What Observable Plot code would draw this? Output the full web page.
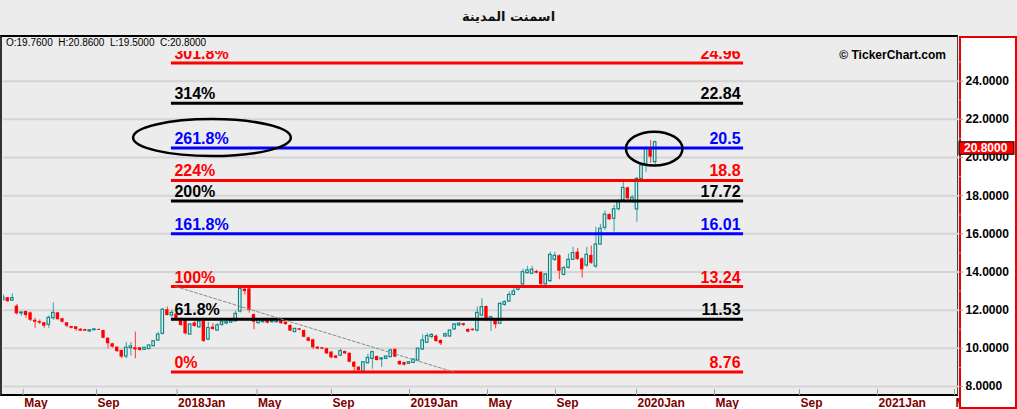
<!DOCTYPE html>
<html><head><meta charset="utf-8">
<script src="https://cdn.jsdelivr.net/npm/d3@7"></script>
<script src="https://cdn.jsdelivr.net/npm/@observablehq/plot@0.6"></script>
<style>
html,body{margin:0;padding:0;}
body{width:1017px;height:409px;overflow:hidden;background:#ececec;position:relative;font-family:"Liberation Sans",Arial,sans-serif;}
#title{position:absolute;left:0;top:9px;width:1017px;height:18px;line-height:18px;text-align:center;font:bold 13px "DejaVu Sans",sans-serif;color:#111;}
#frame{position:absolute;left:0;top:35px;width:958px;height:361px;box-sizing:border-box;border-top:2px solid #000;border-left:2px solid #333;border-right:1px solid #444;border-bottom:2px solid #000;}
#bottomband{position:absolute;left:0;top:396px;width:958px;height:13px;background:#fff;}
#chart{position:absolute;left:0;top:35px;}
#ohlc{position:absolute;left:6px;top:37px;font:10px "Liberation Sans",Arial,sans-serif;white-space:pre;color:#000;line-height:11px;}
#copy{position:absolute;right:71px;top:49px;font:bold 12px "Liberation Sans",Arial,sans-serif;line-height:12px;color:#000;}
</style></head>
<body>
<div id="title">اسمنت المدينة</div>
<div id="frame"></div>
<div id="bottomband"></div>
<div id="chart"></div>
<div id="ohlc"></div>
<div id="copy">© TickerChart.com</div>
<script>
// ---- weekly candles (bar index order) ----
const opens = [12.52,12.65,12.50,12.21,11.83,11.93,11.86,11.47,11.40,11.34,11.23,11.58,11.86,11.55,11.34,11.14,11.13,11.00,10.98,10.88,10.95,10.99,10.93,10.53,10.24,10.06,9.89,9.57,10.01,10.03,
10.03,9.92,9.96,10.11,10.41,10.76,12.02,11.72,11.80,11.55,11.45,10.72,11.33,11.10,11.46,10.46,11.11,10.93,11.23,11.30,11.35,11.41,11.93,13.10,13.12,
11.77,11.32,11.37,11.46,11.37,11.37,11.42,11.37,11.20,10.85,11.02,10.93,10.55,10.45,10.06,10.03,9.98,9.80,9.60,9.62,9.83,9.74,9.27,9.01,8.75,9.22,9.45,9.57,9.42,9.45,
9.54,9.94,9.31,9.25,9.19,9.24,9.36,9.94,10.29,10.60,10.64,10.41,10.62,10.62,10.99,11.20,11.29,10.99,11.00,10.93,11.72,12.19,11.51,11.46,11.29,12.28,12.45,12.80,13.07,
13.35,13.94,13.91,14.03,13.99,13.35,13.52,14.64,14.85,13.85,14.22,14.64,15.04,14.69,14.34,14.87,14.29,15.44,16.32,17.01,16.79,17.29,17.75,18.41,17.71,17.28,18.88,19.58,20.50,19.76];
const highs = [12.82,12.67,12.86,12.30,11.90,11.96,11.90,11.58,11.48,11.36,11.70,12.39,11.88,11.57,11.36,11.16,11.15,11.02,11.00,10.97,11.01,11.01,10.95,10.55,10.26,10.08,9.91,10.30,10.30,10.85,
10.05,10.05,10.17,10.40,10.84,12.10,12.16,12.00,11.85,11.60,11.50,11.30,11.40,11.45,11.50,11.37,11.30,11.30,11.40,11.42,11.55,11.95,13.20,13.20,13.15,
11.80,11.55,11.48,11.50,11.45,11.42,11.45,11.40,11.23,11.05,11.05,10.96,10.58,10.48,10.08,10.05,10.00,9.83,9.63,9.96,9.86,9.77,9.30,9.05,9.30,9.69,9.85,9.60,9.50,9.60,
9.95,9.98,9.35,9.28,9.30,9.45,10.00,10.70,10.78,10.78,10.70,10.45,10.80,10.98,11.30,11.35,11.32,11.02,11.02,12.16,12.60,12.22,11.68,11.50,12.40,12.50,12.95,13.30,13.25,
14.15,14.30,14.30,14.08,14.02,13.92,15.04,15.04,14.90,14.30,14.95,15.30,15.23,14.75,15.30,15.36,16.35,16.50,17.20,17.05,17.50,17.80,18.80,18.45,18.00,18.95,19.65,20.55,20.89,20.86];
const lows = [12.49,12.39,12.48,11.75,11.68,11.58,11.40,11.05,11.25,11.05,11.05,11.47,11.48,11.33,11.08,11.02,10.88,10.88,10.88,10.86,10.93,10.93,10.50,9.98,10.02,9.78,9.47,9.45,9.60,9.45,
9.85,9.90,9.94,10.08,10.38,10.70,11.70,11.62,11.50,11.15,10.70,10.68,11.10,11.05,10.30,10.40,10.95,10.88,11.15,11.25,11.30,11.38,11.85,12.80,11.84,
10.97,11.28,11.33,11.28,11.33,11.33,11.26,11.20,10.88,10.82,10.92,10.55,10.34,9.92,9.93,9.93,9.68,9.45,9.45,9.58,9.68,9.24,8.80,8.78,8.72,9.18,8.90,9.33,9.00,9.40,
9.50,9.50,9.10,9.08,9.15,9.20,9.33,9.90,10.25,10.50,10.30,10.15,10.58,10.58,10.95,11.15,11.15,10.80,10.90,10.85,11.65,11.40,10.90,11.02,11.25,12.20,12.40,12.75,13.00,
13.30,13.90,13.88,13.90,13.24,13.30,13.45,14.55,13.60,13.80,14.15,14.60,14.60,13.68,14.25,14.40,14.20,15.40,16.18,16.70,16.10,17.20,17.70,17.70,17.60,16.61,18.70,19.23,19.70,19.50];
const closes = [12.66,12.45,12.63,11.81,11.88,11.72,11.47,11.37,11.32,11.16,11.60,11.86,11.50,11.37,11.16,11.05,10.99,10.90,10.90,10.95,10.99,10.95,10.53,10.24,10.06,9.83,9.54,10.03,10.10,9.92,
9.89,10.03,10.15,10.37,10.72,12.02,11.72,11.86,11.55,11.20,10.76,11.25,11.15,11.40,10.36,11.06,10.99,11.20,11.37,11.37,11.45,11.81,13.12,12.98,11.98,
11.37,11.50,11.45,11.32,11.42,11.40,11.29,11.25,10.90,11.02,10.95,10.58,10.37,10.03,9.96,9.96,9.71,9.50,9.48,9.85,9.71,9.27,9.01,8.84,9.27,9.50,9.80,9.36,9.47,9.57,
9.89,9.54,9.14,9.12,9.27,9.41,9.98,10.41,10.64,10.70,10.36,10.24,10.74,10.93,11.25,11.29,11.20,10.85,10.93,11.86,12.16,11.55,11.63,11.23,12.33,12.42,12.80,12.98,13.20,
13.99,14.08,14.12,13.94,13.35,13.87,14.90,14.85,14.04,14.20,14.64,14.99,14.66,14.12,14.90,14.46,15.44,16.27,17.01,16.74,17.29,17.71,18.41,17.84,17.89,18.88,19.58,20.50,20.02,20.80];

// ---- x-axis month ticks (bar-index positions) ----
const tickIdx = [4.39,20.47,38.14,55.67,72.01,89.12,106.23,121.15,138.91,156.02,174.67,191.78,208.66];
const tickLabels = ["May","Sep","2018Jan","May","Sep","2019Jan","May","Sep","2020Jan","May","Sep","2021Jan","May"];

// ---- y-axis ticks ----
const yTicks = [8,10,12,14,16,18,20,22,24];
const yMinor = [9,11,13,15,17,19,21,23,25];

// ---- Fibonacci levels ----
const fibPct = ["301.8%","314%","261.8%","224%","200%","161.8%","100%","61.8%","0%"];
const fibVal = [24.96,22.84,20.5,18.8,17.72,16.01,13.24,11.53,8.76];
const fibSet = ["a","b","c","a","b","c","a","b","a"];
const fibFrom = 36.9, fibTo = 162.4;

// ---- trend line & annotation ellipses ----
const trendIdx = [37.8, 98.8];
const trendVal = [13.24, 8.76];
const noteCx = [45.9, 142.9];
const noteCy = [21.02, 20.44];
const noteRx = [17.3, 6.2];
const noteRy = [0.97, 0.89];

const setColor = {a: "#ff0000", b: "#000000", c: "#0000ff"};

const candles = opens.map((o, i) => ({i, o, h: highs[i], l: lows[i], c: closes[i]}));
const up = candles.filter(d => d.c >= d.o);
const down = candles.filter(d => d.c < d.o);
const fibs = fibVal.map((v, k) => ({v, pct: fibPct[k], val: String(v), set: fibSet[k]}));
const trend = trendIdx.map((x, k) => ({x, v: trendVal[k]}));
const labelOf = new Map(tickIdx.map((t, k) => [t, tickLabels[k]]));
const last = candles[candles.length - 1];

const fibMarks = [];
for (const s of ["a","b","c"]) {
  const sub = fibs.filter(f => f.set === s);
  fibMarks.push(Plot.ruleY(sub, {y: "v", x1: fibFrom, x2: fibTo, stroke: setColor[s], strokeWidth: 3, clip: true}));
}
const fibText = [];
for (const s of ["a","b","c"]) {
  const sub = fibs.filter(f => f.set === s);
  fibText.push(Plot.text(sub, {x: fibFrom, y: "v", text: "pct", textAnchor: "start", lineAnchor: "bottom", dx: 3, dy: -4, fill: setColor[s], fontSize: 16, fontWeight: "bold", clip: true}));
  fibText.push(Plot.text(sub, {x: fibTo, y: "v", text: "val", textAnchor: "end", lineAnchor: "bottom", dx: -3, dy: -4, fill: setColor[s], fontSize: 16, fontWeight: "bold", clip: true}));
}

const plot = Plot.plot({
  width: 1017, height: 374,
  marginTop: 16, marginBottom: 14, marginLeft: 3, marginRight: 59,
  style: {background: "transparent", fontFamily: "'Liberation Sans', Arial, sans-serif", overflow: "visible"},
  x: {type: "linear", domain: [0.066, 209.54]},
  y: {type: "linear", domain: [7.528, 25.557]},
  marks: [
    Plot.ruleY(yTicks, {y: d => d, stroke: "#d4d4d4", strokeWidth: 2, clip: true}),
    Plot.ruleX(up, {x: "i", y1: "l", y2: "h", stroke: "#5aa8a8", strokeWidth: 1.2, clip: true}),
    Plot.ruleX(down, {x: "i", y1: "l", y2: "h", stroke: "#ff5050", strokeWidth: 1.2, clip: true}),
    Plot.rect(up, {x1: d => d.i - 0.5, x2: d => d.i + 0.5, y1: "o", y2: "c", insetLeft: 1, insetRight: 1, fill: "#ececec", stroke: "#008585", strokeWidth: 1.1, clip: true}),
    Plot.rect(down, {x1: d => d.i - 0.5, x2: d => d.i + 0.5, y1: "o", y2: "c", insetLeft: 0.6, insetRight: 0.6, fill: "#ff0000", clip: true}),
    ...fibMarks,
    Plot.line(trend, {x: "x", y: "v", stroke: "#8a8a8a", strokeWidth: 1, strokeDasharray: "3,2", clip: true}),
    ...fibText,
    Plot.axisX(tickIdx, {anchor: "bottom", tickSize: -6, tickFormat: () => "", stroke: "#a0a0a0", label: null}),
    Plot.axisX(tickIdx, {anchor: "bottom", tickSize: 0, tickPadding: 3, tickFormat: d => labelOf.get(d), textAnchor: "start", dx: 1, fill: "#800000", fontSize: 12, fontWeight: "bold", label: null}),
    Plot.axisY(yMinor, {anchor: "right", tickSize: 2, tickFormat: () => "", stroke: "#999", label: null}),
    Plot.axisY(yTicks, {anchor: "right", tickSize: 4, tickPadding: 3, tickFormat: d => d.toFixed(4), stroke: "#999", fill: "#000", fontSize: 12, fontWeight: "bold", label: null})
  ]
});
document.getElementById("chart").appendChild(plot);

document.getElementById("ohlc").textContent =
  `O:${last.o.toFixed(4)}  H:${last.h.toFixed(4)}  L:${last.l.toFixed(4)}  C:${last.c.toFixed(4)}`;

// ---- overlays drawn through the plot's scales ----
const sx = plot.scale("x"), sy = plot.scale("y");
const svg = d3.select(plot);
const W = 1017, H = 374, MR = 59;

// right price panel (white with red border), under the y-axis but over the x labels
const firstY = plot.querySelector('g[aria-label="y-axis tick"]');
const panel = document.createElementNS("http://www.w3.org/2000/svg", "rect");
d3.select(panel).attr("x", W - MR + 2).attr("y", 2).attr("width", MR - 3).attr("height", H - 3)
  .attr("fill", "#fff").attr("stroke", "#e80000").attr("stroke-width", 2);
if (firstY) plot.insertBefore(panel, firstY); else plot.appendChild(panel);

// ellipses
const g = svg.append("g");
noteCx.forEach((cx, k) => {
  const px = sx.apply(cx), py = sy.apply(noteCy[k]);
  const rx = sx.apply(cx + noteRx[k]) - px, ry = sy.apply(noteCy[k] - noteRy[k]) - py;
  g.append("ellipse").attr("cx", px).attr("cy", py).attr("rx", rx).attr("ry", ry)
    .attr("fill", "none").attr("stroke", "#000").attr("stroke-width", 2.5);
});

// last price tag
const ty = sy.apply(last.c);
const tag = svg.append("g").attr("text-anchor", "start");
tag.append("rect").attr("x", W - MR + 1).attr("y", ty).attr("width", MR - 4).attr("height", 12.5)
  .attr("fill", "#ff0000").attr("stroke", "#000").attr("stroke-width", 1);
tag.append("text").attr("x", W - MR + 6).attr("y", ty + 6.5).attr("dy", "0.35em")
  .attr("text-anchor", "start").attr("fill", "#fff").attr("font-size", 12).attr("font-weight", "bold")
  .text(last.c.toFixed(4));
</script>
</body></html>
